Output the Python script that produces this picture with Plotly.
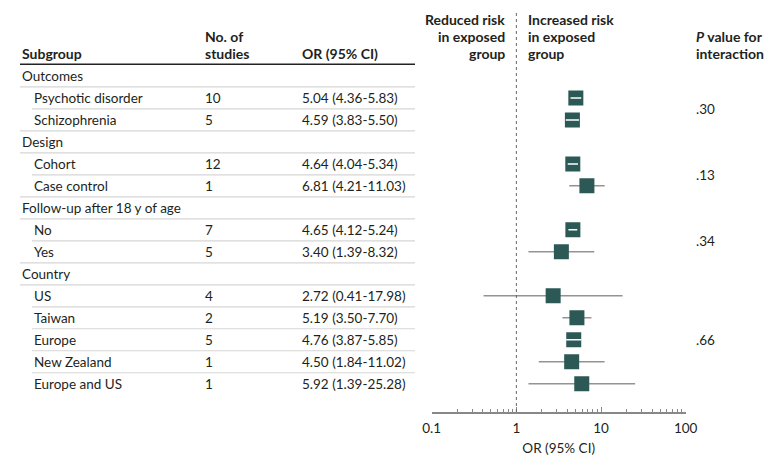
import numpy as np
import plotly.graph_objects as go

# subgroup table
categories = ["Outcomes", "Design", "Follow-up after 18 y of age", "Country"]
items = [
    ["Psychotic disorder", "Schizophrenia"],
    ["Cohort", "Case control"],
    ["No", "Yes"],
    ["US", "Taiwan", "Europe", "New Zealand", "Europe and US"],
]
n_studies = [[10, 5], [12, 1], [7, 5], [4, 2, 5, 1, 1]]
or_est = [[5.04, 4.59], [4.64, 6.81], [4.65, 3.40], [2.72, 5.19, 4.76, 4.50, 5.92]]
ci_low = [[4.36, 3.83], [4.04, 4.21], [4.12, 1.39], [0.41, 3.50, 3.87, 1.84, 1.39]]
ci_high = [[5.83, 5.50], [5.34, 11.03], [5.24, 8.32], [17.98, 7.70, 5.85, 11.02, 25.28]]
p_values = [".30", ".13", ".34", ".66"]

tick_vals = [0.1, 1, 10, 100]
tick_text = ["0.1", "1", "10", "100"]

W, H = 780, 470
OFF = 8  # page body margin, everything below is in window pixels
TOP, BOTTOM = 13, 412.3
ROW0, ROWH = 76, 22
FONT = "Lato"
FS = 13.5
TXT = "#231f20"
SQUARE = "#2c5955"
CI_GRAY = "#939393"
SEP = "#d6d6d6"


def ypix(p):
    # window pixel row -> y data value
    return (p - ROW0) / ROWH


def xp(p):
    return (p - OFF) / W


# build rows
rows = []
p_rows = []
for ci, cat in enumerate(categories):
    rows.append(dict(label=cat, header=True))
    first = len(rows)
    for j, name in enumerate(items[ci]):
        rows.append(dict(label=name, header=False, n=n_studies[ci][j],
                         est=or_est[ci][j], lo=ci_low[ci][j], hi=ci_high[ci][j],
                         last=(j == len(items[ci]) - 1)))
    p_rows.append((first + len(rows) - 1) / 2)

fig = go.Figure()
ann = []
shapes = []

est_y, est_x = [], []
for i, r in enumerate(rows):
    if r["header"]:
        ann.append(dict(x=xp(20), y=i, text=r["label"], xanchor="left"))
    else:
        ann.append(dict(x=xp(32), y=i, text=r["label"], xanchor="left"))
        ann.append(dict(x=xp(203), y=i, text=str(r["n"]), xanchor="left"))
        ann.append(dict(x=xp(300), y=i,
                        text=f"{r['est']:.2f} ({r['lo']:.2f}-{r['hi']:.2f})",
                        xanchor="left"))
        # gray CI line behind the square (wide intervals only)
        if np.log10(r["hi"] / r["lo"]) >= 0.2:
            fig.add_trace(go.Scatter(
                x=[r["lo"], r["hi"]], y=[i, i], mode="lines",
                line=dict(color=CI_GRAY, width=1.5),
                showlegend=False, hoverinfo="skip"))
        est_x.append(r["est"])
        est_y.append(i)
    # row separator
    if i < len(rows) - 1:
        start = 20 if (r["header"] or r.get("last")) else 32
        shapes.append(dict(type="line", xref="paper", yref="y",
                           x0=xp(start), x1=xp(415), y0=i + 0.5, y1=i + 0.5,
                           line=dict(color=SEP, width=1.2)))

fig.add_trace(go.Scatter(
    x=est_x, y=est_y, mode="markers",
    marker=dict(symbol="square", size=15, color=SQUARE, line=dict(width=0)),
    showlegend=False))

# white CI on top for narrow intervals
for i, r in enumerate(rows):
    if not r["header"] and np.log10(r["hi"] / r["lo"]) < 0.2:
        fig.add_trace(go.Scatter(
            x=[r["lo"], r["hi"]], y=[i, i], mode="lines",
            line=dict(color="white", width=1.5),
            showlegend=False, hoverinfo="skip"))

# p values
for pv, py in zip(p_values, p_rows):
    ann.append(dict(x=xp(694), y=py, text=pv, xanchor="left"))

# headers
hdr = [
    (20, 54, "<b>Subgroup</b>", "left"),
    (203, 37, "<b>No. of</b>", "left"),
    (203, 54, "<b>studies</b>", "left"),
    (300, 54, "<b>OR (95% CI)</b>", "left"),
    (507, 19, "<b>Reduced risk</b>", "right"),
    (507, 37, "<b>in exposed</b>", "right"),
    (507, 54, "<b>group</b>", "right"),
    (526, 19, "<b>Increased risk</b>", "left"),
    (526, 37, "<b>in exposed</b>", "left"),
    (526, 54, "<b>group</b>", "left"),
    (694, 37, "<b><i>P</i> value for</b>", "left"),
    (694, 54, "<b>interaction</b>", "left"),
]
for x, y, t, a in hdr:
    ann.append(dict(x=xp(x), y=ypix(y), text=t, xanchor=a, font_size=14))

for a in ann:
    size = a.pop("font_size", FS)
    a.update(xref="paper", yref="y", yanchor="middle", showarrow=False,
             font=dict(family=FONT, size=size, color=TXT))

shapes.append(dict(type="line", xref="paper", yref="y", x0=xp(20), x1=xp(415),
                   y0=ypix(64.3), y1=ypix(64.3), line=dict(color="#222", width=1.5)))
shapes.append(dict(type="line", xref="x", yref="paper", x0=1, x1=1, y0=0, y1=1,
                   line=dict(color="#666", width=1, dash="dot")))

fig.update_layout(
    width=W, height=H,
    margin=dict(l=0, r=0, t=TOP - OFF, b=H - (BOTTOM - OFF), autoexpand=False),
    plot_bgcolor="white", paper_bgcolor="white",
    annotations=ann, shapes=shapes,
    xaxis=dict(
        type="log", range=[-1, 2],
        domain=[(431.7 - OFF) / W, (685.7 - OFF) / W],
        tickvals=tick_vals, ticktext=tick_text,
        ticks="inside", ticklen=5, tickwidth=1, tickcolor="#888",
        minor=dict(ticks="inside", ticklen=3, tickwidth=1, tickcolor="#888", dtick="D1"),
        showline=True, linecolor="#888", linewidth=1.5,
        showgrid=False, zeroline=False,
        ticklabelstandoff=3,
        tickfont=dict(family=FONT, size=FS, color=TXT),
        title=dict(text="OR (95% CI)", font=dict(family=FONT, size=FS, color=TXT), standoff=9),
    ),
    yaxis=dict(
        range=[ypix(BOTTOM), ypix(TOP)], visible=False, showgrid=False, zeroline=False,
    ),
)

fig.write_html("out.html")
